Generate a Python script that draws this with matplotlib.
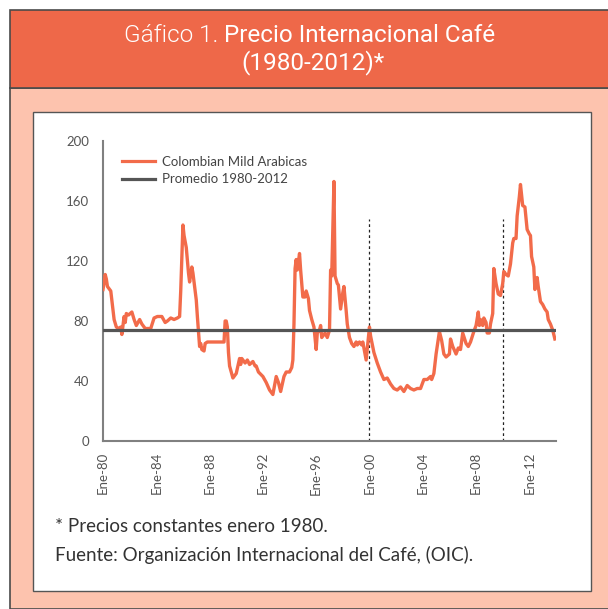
import matplotlib
matplotlib.use("Agg")
import matplotlib.pyplot as plt
from matplotlib.patches import Rectangle
from matplotlib.lines import Line2D

# ---------------- data ----------------
months = [
    "1980-01", "1980-03", "1980-04", "1980-05", "1980-07", "1980-08", "1980-11",
    "1981-01", "1981-03", "1981-05", "1981-06", "1981-08", "1981-09", "1981-10", "1981-12",
    "1982-03", "1982-05", "1982-07", "1982-10", "1982-12",
    "1983-03", "1983-08", "1983-11",
    "1984-02", "1984-06", "1984-09", "1984-11",
    "1985-02", "1985-05", "1985-08", "1985-10", "1985-11",
    "1986-01", "1986-02", "1986-04", "1986-06", "1986-07", "1986-09", "1986-10",
    "1987-01", "1987-02", "1987-04", "1987-05", "1987-06", "1987-08", "1987-09", "1987-11",
    "1989-02", "1989-03", "1989-04", "1989-05", "1989-06", "1989-07", "1989-10",
    "1990-01", "1990-04", "1990-05", "1990-06", "1990-09", "1990-11",
    "1991-01", "1991-04", "1991-06", "1991-07", "1991-09",
    "1992-01", "1992-04", "1992-07", "1992-10",
    "1993-01", "1993-03", "1993-05", "1993-08", "1993-10",
    "1994-01", "1994-03", "1994-04", "1994-05", "1994-06", "1994-07", "1994-08", "1994-10", "1994-11",
    "1995-01", "1995-03", "1995-04", "1995-06", "1995-07", "1995-09", "1995-11",
    "1996-01", "1996-02", "1996-04", "1996-05", "1996-06", "1996-09", "1996-11",
    "1997-01", "1997-02", "1997-03", "1997-05", "1997-06", "1997-08", "1997-09", "1997-11",
    "1998-01", "1998-02", "1998-04", "1998-05", "1998-07", "1998-09", "1998-11",
    "1999-01", "1999-02", "1999-04", "1999-06", "1999-07", "1999-09", "1999-10",
    "2000-01", "2000-02", "2000-05", "2000-08", "2000-11",
    "2001-02", "2001-05", "2001-08", "2001-11",
    "2002-02", "2002-05", "2002-08", "2002-11",
    "2003-02", "2003-05", "2003-08", "2003-11",
    "2004-02", "2004-05", "2004-08", "2004-09", "2004-11",
    "2005-01", "2005-04", "2005-06", "2005-08", "2005-10",
    "2006-01", "2006-02", "2006-04", "2006-07", "2006-09", "2006-11",
    "2007-01", "2007-04", "2007-06", "2007-08", "2007-11",
    "2008-01", "2008-03", "2008-04", "2008-05", "2008-07", "2008-08", "2008-10", "2008-11",
    "2009-01", "2009-02", "2009-04", "2009-05", "2009-07", "2009-09", "2009-11",
    "2010-01", "2010-02", "2010-04", "2010-06", "2010-08", "2010-10", "2010-11",
    "2011-01", "2011-02", "2011-04", "2011-05", "2011-07", "2011-09", "2011-11",
    "2012-01", "2012-02", "2012-03", "2012-05", "2012-06", "2012-08", "2012-09", "2012-11",
    "2013-01", "2013-03", "2013-05", "2013-06", "2013-08", "2013-10", "2013-12",
]
prices = [
    101, 111, 108, 103, 101, 100, 81,
    76, 75, 76, 71, 83, 79, 85, 84,
    86, 81, 77, 81, 78,
    75, 75, 82,
    83, 83, 79, 80,
    82, 81, 82, 83, 100,
    144, 137, 129, 112, 106, 116, 112,
    94, 83, 63, 65, 61, 60, 65, 66,
    66, 80, 80, 76, 59, 50, 42,
    45, 55, 51, 55, 52, 54,
    51, 53, 50, 50, 46,
    43, 39, 34, 31,
    43, 39, 33, 43, 46,
    46, 49, 54, 78, 115, 121, 114, 125, 114,
    96, 96, 100, 95, 87, 81, 76,
    61, 72, 74, 77, 69, 72, 69,
    74, 114, 110, 173, 110, 105, 104, 88,
    99, 103, 87, 78, 69, 65, 63,
    66, 64, 66, 64, 66, 58, 54,
    76, 70, 59, 52, 46,
    41, 42, 38, 35,
    34, 36, 33, 37,
    35, 34, 35, 35,
    41, 41, 43, 41, 45,
    58, 73, 67, 58, 56,
    58, 68, 63, 58, 62, 61,
    72, 65, 63, 66, 73,
    77, 86, 77, 81, 77, 82, 79, 72,
    72, 78, 85, 115, 105, 98, 97,
    105, 113, 111, 110, 118, 132, 135,
    135, 150, 163, 171, 157, 156, 141,
    138, 137, 123, 116, 101, 109, 103, 93,
    91, 88, 86, 81, 78, 74, 68,
]
average_value = 74
average_span = [1980, 2014]
marker_years = [2000, 2010]
marker_top = 148
tick_years = [1980, 1984, 1988, 1992, 1996, 2000, 2004, 2008, 2012]
tick_labels = ["Ene-80", "Ene-84", "Ene-88", "Ene-92", "Ene-96", "Ene-00", "Ene-04", "Ene-08", "Ene-12"]
y_ticks = [0, 40, 80, 120, 160, 200]

series_name = "Colombian Mild Arabicas"
average_name = "Promedio 1980-2012"
title_light = "Gáfico 1. "
title_main = "Precio Internacional Café"
title_line2 = "(1980-2012)*"
note1 = "* Precios constantes enero 1980."
note2 = "Fuente: Organización Internacional del Café, (OIC)."

# ---------------- helpers ----------------
W, H = 608, 609
def fx(x):
    return x / W
def fy(y):
    return 1 - y / H

x_vals = [int(m[:4]) + (int(m[5:]) - 1) / 12 for m in months]

plt.rcParams['font.family'] = ['Lato', 'DejaVu Sans']

fig = plt.figure(figsize=(W / 100, H / 100), dpi=100)
fig.patch.set_facecolor("white")

# panels
edge = "#4a4a4a"
fig.patches.append(Rectangle((fx(10), fy(609)), fx(610) - fx(10), fy(88) - fy(609),
                             transform=fig.transFigure, facecolor="#fdc3ae",
                             edgecolor=edge, linewidth=1.2, zorder=0))
fig.patches.append(Rectangle((fx(10), fy(88)), fx(610) - fx(10), fy(10) - fy(88),
                             transform=fig.transFigure, facecolor="#ee6849",
                             edgecolor=edge, linewidth=1.2, zorder=1))
fig.patches.append(Rectangle((fx(33), fy(591)), fx(591) - fx(33), fy(112) - fy(591),
                             transform=fig.transFigure, facecolor="white",
                             edgecolor="#555555", linewidth=1.0, zorder=1))

# title
title_font = ['Roboto', 'DejaVu Sans']
split_x = fx(224)
fig.text(split_x, fy(35), title_light, ha="right", va="center", color="white",
         fontsize=17.5, fontweight=300, family=title_font, zorder=3)
fig.text(split_x, fy(35), title_main, ha="left", va="center", color="white",
         fontsize=17.5, fontweight=400, family=title_font, zorder=3)
fig.text(fx(313), fy(63), title_line2, ha="center", va="center", color="white",
         fontsize=17.5, fontweight=400, family=title_font, zorder=3)

# axes
ax = fig.add_axes([fx(103), fy(441), fx(556) - fx(103), fy(141) - fy(441)])
ax.set_facecolor("white")
ax.set_zorder(2)
line_color = "#f26b4a"
ax.plot(x_vals, prices, color=line_color, linewidth=2.4, solid_joinstyle="round", zorder=3)
ax.plot(average_span, [average_value, average_value], color="#555555", linewidth=2.3, zorder=4)
for yr in marker_years:
    ax.plot([yr, yr], [0, marker_top], color="#222222", linestyle=(0, (2.2, 2.2)),
            linewidth=0.9, zorder=2)

ax.set_xlim(1980, 2014)
ax.set_ylim(0, 200)
ax.set_xticks(tick_years)
ax.set_xticklabels(tick_labels, rotation=90)
ax.set_yticks(y_ticks)
ax.tick_params(axis="both", length=0, labelsize=9.5, labelcolor="#555555")
ax.tick_params(axis="x", pad=8)
ax.tick_params(axis="y", pad=10)
for s in ["top", "right"]:
    ax.spines[s].set_visible(False)
for s in ["left", "bottom"]:
    ax.spines[s].set_color("#808080")
    ax.spines[s].set_linewidth(1.5)

handles = [Line2D([0], [0], color=line_color, linewidth=2.3),
           Line2D([0], [0], color="#555555", linewidth=2.3)]
leg = ax.legend(handles, [series_name, average_name], loc="upper left",
                bbox_to_anchor=(0.016, 0.99), frameon=False, fontsize=9.5,
                handlelength=2.5, handletextpad=0.5, labelspacing=0.4)
for t in leg.get_texts():
    t.set_color("#444444")

# notes
fig.text(fx(55), fy(527), note1, ha="left", va="center", fontsize=13.5, color="#333333", zorder=3)
fig.text(fx(55), fy(555), note2, ha="left", va="center", fontsize=13.5, color="#333333", zorder=3)

fig.savefig("out.png", dpi=100, facecolor=fig.get_facecolor())
